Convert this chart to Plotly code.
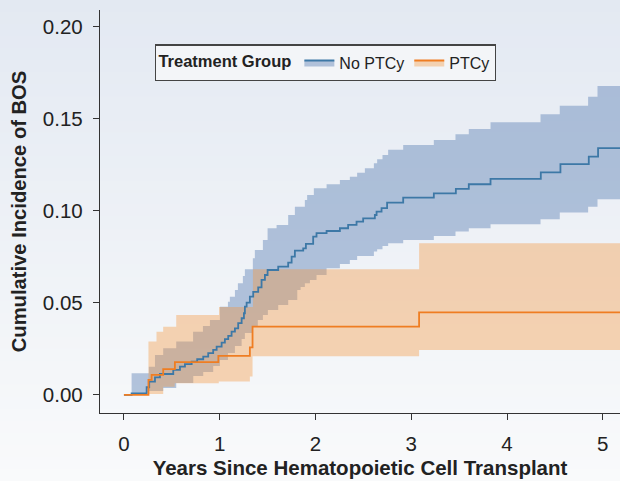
import plotly.graph_objects as go

# ---------------- data ----------------
no_ptcy_time = [0, 0.080, 0.237, 0.264, 0.324, 0.376, 0.515, 0.585, 0.637, 0.707, 0.765, 0.828,
                0.880, 0.932, 0.968, 1.020, 1.054, 1.089, 1.124, 1.159, 1.193, 1.229, 1.253, 1.263,
                1.281, 1.315, 1.350, 1.402, 1.437, 1.472, 1.500, 1.611, 1.715, 1.751, 1.785, 1.872,
                1.900, 1.976, 2.011, 2.116, 2.255, 2.341, 2.429, 2.498, 2.620, 2.638, 2.690, 2.748,
                2.916, 3.236, 3.466, 3.601, 3.828, 4.353, 4.558, 4.854, 4.951, 5.2]
no_ptcy_cif = [0, 0.0009, 0.0042, 0.0072, 0.0096, 0.0114, 0.0136, 0.0154, 0.0168, 0.0181, 0.0194, 0.0208,
               0.0227, 0.0245, 0.0263, 0.0284, 0.0303, 0.0321, 0.0344, 0.0362, 0.0390, 0.0417, 0.0444, 0.0480,
               0.0502, 0.0534, 0.0560, 0.0585, 0.0625, 0.0652, 0.0679, 0.0697, 0.0719, 0.0752, 0.0784, 0.0797,
               0.0821, 0.0860, 0.0879, 0.0891, 0.0906, 0.0924, 0.0942, 0.0960, 0.0978, 0.0996, 0.1015, 0.1045,
               0.1072, 0.1096, 0.1120, 0.1145, 0.1174, 0.1210, 0.1254, 0.1295, 0.1341, 0.1341]

no_ptcy_upper_time = [0, 0.080, 0.260, 0.324, 0.410, 0.546, 0.722, 0.825, 0.898, 1.002, 1.086, 1.106,
                      1.159, 1.190, 1.242, 1.263, 1.346, 1.367, 1.451, 1.500, 1.594, 1.715, 1.785, 1.889,
                      1.913, 1.983, 2.116, 2.255, 2.359, 2.435, 2.516, 2.610, 2.644, 2.700, 2.759, 2.916,
                      3.236, 3.462, 3.601, 3.828, 4.350, 4.551, 4.847, 4.945, 5.2]
no_ptcy_upper = [0, 0.0118, 0.0154, 0.0217, 0.0254, 0.0290, 0.0344, 0.0375, 0.0408, 0.0480, 0.0507, 0.0534,
                 0.0571, 0.0607, 0.0647, 0.0683, 0.0743, 0.0788, 0.0842, 0.0906, 0.0924, 0.0978, 0.1023, 0.1060,
                 0.1087, 0.1123, 0.1145, 0.1168, 0.1186, 0.1208, 0.1232, 0.1259, 0.1281, 0.1304, 0.1332, 0.1359,
                 0.1386, 0.1417, 0.1446, 0.1482, 0.1526, 0.1572, 0.1621, 0.1679, 0.1679]

no_ptcy_lower_time = [0, 0.080, 0.260, 0.410, 0.546, 0.724, 0.828, 0.932, 1.002, 1.086, 1.159, 1.229,
                      1.263, 1.346, 1.398, 1.451, 1.503, 1.611, 1.715, 1.810, 1.845, 1.889, 1.942, 2.011,
                      2.116, 2.255, 2.359, 2.435, 2.610, 2.644, 2.700, 2.759, 2.916, 3.236, 3.462, 3.601,
                      3.828, 4.350, 4.551, 4.847, 4.945, 5.2]
no_ptcy_lower = [0, 0.0008, 0.0022, 0.0038, 0.0065, 0.0103, 0.0125, 0.0158, 0.0190, 0.0228, 0.0266, 0.0304,
                 0.0337, 0.0375, 0.0408, 0.0435, 0.0462, 0.0489, 0.0516, 0.0571, 0.0587, 0.0607, 0.0625, 0.0652,
                 0.0689, 0.0712, 0.0734, 0.0755, 0.0779, 0.0792, 0.0810, 0.0824, 0.0842, 0.0864, 0.0888, 0.0906,
                 0.0928, 0.0955, 0.0991, 0.1023, 0.1064, 0.1064]

ptcy_time = [0, 0.256, 0.289, 0.410, 0.532, 0.986, 1.315, 1.343, 3.082, 5.2]
ptcy_cif = [0, 0.0082, 0.0109, 0.0140, 0.0178, 0.0212, 0.0259, 0.0371, 0.0449, 0.0449]

ptcy_upper_time = [0, 0.256, 0.340, 0.410, 0.546, 0.993, 1.347, 3.082, 5.2]
ptcy_upper = [0, 0.0290, 0.0344, 0.0371, 0.0435, 0.0478, 0.0683, 0.0824, 0.0824]

ptcy_lower_time = [0, 0.256, 0.410, 0.530, 0.990, 1.315, 1.343, 3.082, 5.2]
ptcy_lower = [0, 0.0005, 0.0045, 0.0064, 0.0073, 0.0100, 0.0210, 0.0245, 0.0245]

y_ticks = [0.0, 0.05, 0.10, 0.15, 0.20]
x_ticks = [0, 1, 2, 3, 4, 5]
group_names = ["No PTCy", "PTCy"]

# ---------------- styling ----------------
BLUE_LINE = "#3d78a6"
BLUE_FILL = "rgba(95,130,182,0.45)"
ORANGE_LINE = "#ef7d22"
ORANGE_FILL = "rgba(245,150,60,0.38)"
FONT = "Liberation Sans, Arial, Helvetica, sans-serif"
TXT = "#222222"

fig = go.Figure()

def band(t_lo, lo, t_hi, hi, fill):
    fig.add_trace(go.Scatter(x=t_lo, y=lo, mode="lines", line=dict(width=0, shape="hv"),
                             showlegend=False, hoverinfo="skip"))
    fig.add_trace(go.Scatter(x=t_hi, y=hi, mode="lines", line=dict(width=0, shape="hv"),
                             fill="tonexty", fillcolor=fill, showlegend=False, hoverinfo="skip"))

band(no_ptcy_lower_time, no_ptcy_lower, no_ptcy_upper_time, no_ptcy_upper, BLUE_FILL)
band(ptcy_lower_time, ptcy_lower, ptcy_upper_time, ptcy_upper, ORANGE_FILL)

fig.add_trace(go.Scatter(x=no_ptcy_time, y=no_ptcy_cif, mode="lines",
                         line=dict(color=BLUE_LINE, width=1.8, shape="hv"), showlegend=False))
fig.add_trace(go.Scatter(x=ptcy_time, y=ptcy_cif, mode="lines",
                         line=dict(color=ORANGE_LINE, width=1.8, shape="hv"), showlegend=False))

# legend entries (patch + line)
for name, lc, fc in zip(group_names, [BLUE_LINE, ORANGE_LINE], [BLUE_FILL, ORANGE_FILL]):
    fig.add_trace(go.Scatter(x=[None], y=[None], mode="lines", name=name,
                             line=dict(color=lc, width=2), fill="toself", fillcolor=fc))

# background gradient (light blue at top to near-white at bottom)
W, H = 620, 481
ml, mr, mt, mb = 100, 0, 10, 68
pw, ph = W - ml - mr, H - mt - mb
top_c = (227, 233, 242)
bot_c = (249, 250, 251)
nb = 40
shapes = []
for i in range(nb):
    y0px = H * i / nb
    y1px = H * (i + 1) / nb + 1
    f = (i + 0.5) / nb
    c = tuple(round(top_c[k] + (bot_c[k] - top_c[k]) * f) for k in range(3))
    shapes.append(dict(type="rect", xref="paper", yref="paper", layer="below",
                       x0=-ml / pw - 0.01, x1=1 + mr / pw + 0.01,
                       y0=(H - mb - y1px) / ph, y1=(H - mb - y0px) / ph,
                       line=dict(width=0), fillcolor="rgb(%d,%d,%d)" % c))

fig.update_layout(
    width=W, height=H,
    margin=dict(l=ml, r=mr, t=mt, b=mb, autoexpand=False),
    paper_bgcolor="rgb(%d,%d,%d)" % bot_c,
    plot_bgcolor="rgba(0,0,0,0)",
    shapes=shapes,
    font=dict(family=FONT, color=TXT, size=16),
    showlegend=True,
    legend=dict(
        orientation="h", x=0.106, y=0.915, xanchor="left", yanchor="top",
        traceorder="normal",
        bgcolor="rgb(243,245,248)", bordercolor="#444444", borderwidth=1.3,
        title=dict(text="<b>Treatment Group</b>", font=dict(size=16.5, family=FONT, color=TXT)),
        font=dict(size=16, family=FONT, color=TXT),
        itemwidth=30,
    ),
    xaxis=dict(
        range=[-0.25, 5.18], tickvals=x_ticks, ticktext=[str(v) for v in x_ticks],
        showgrid=False, zeroline=False, showline=True, linecolor="#333333", linewidth=1.3,
        ticks="outside", ticklen=6, tickwidth=1.3, tickcolor="#333333", automargin=False,
        tickfont=dict(size=20.5, family=FONT, color=TXT), ticklabelstandoff=6,
        title=dict(text="<b>Years Since Hematopoietic Cell Transplant</b>",
                   font=dict(size=20.5, family=FONT, color=TXT), standoff=6),
    ),
    yaxis=dict(
        range=[-0.0098, 0.2092], tickvals=y_ticks, ticktext=["%.2f" % v for v in y_ticks],
        showgrid=False, zeroline=False, showline=True, linecolor="#333333", linewidth=1.3,
        ticks="outside", ticklen=6, tickwidth=1.3, tickcolor="#333333", automargin=False,
        tickfont=dict(size=20.5, family=FONT, color=TXT), ticklabelstandoff=6,
        title=dict(text="<b>Cumulative Incidence of BOS</b>",
                   font=dict(size=20.2, family=FONT, color=TXT), standoff=10),
    ),
)

fig.write_html("out.html", config={"displayModeBar": False},
               post_script="document.body.style.margin='0px';document.body.style.overflow='hidden';")
